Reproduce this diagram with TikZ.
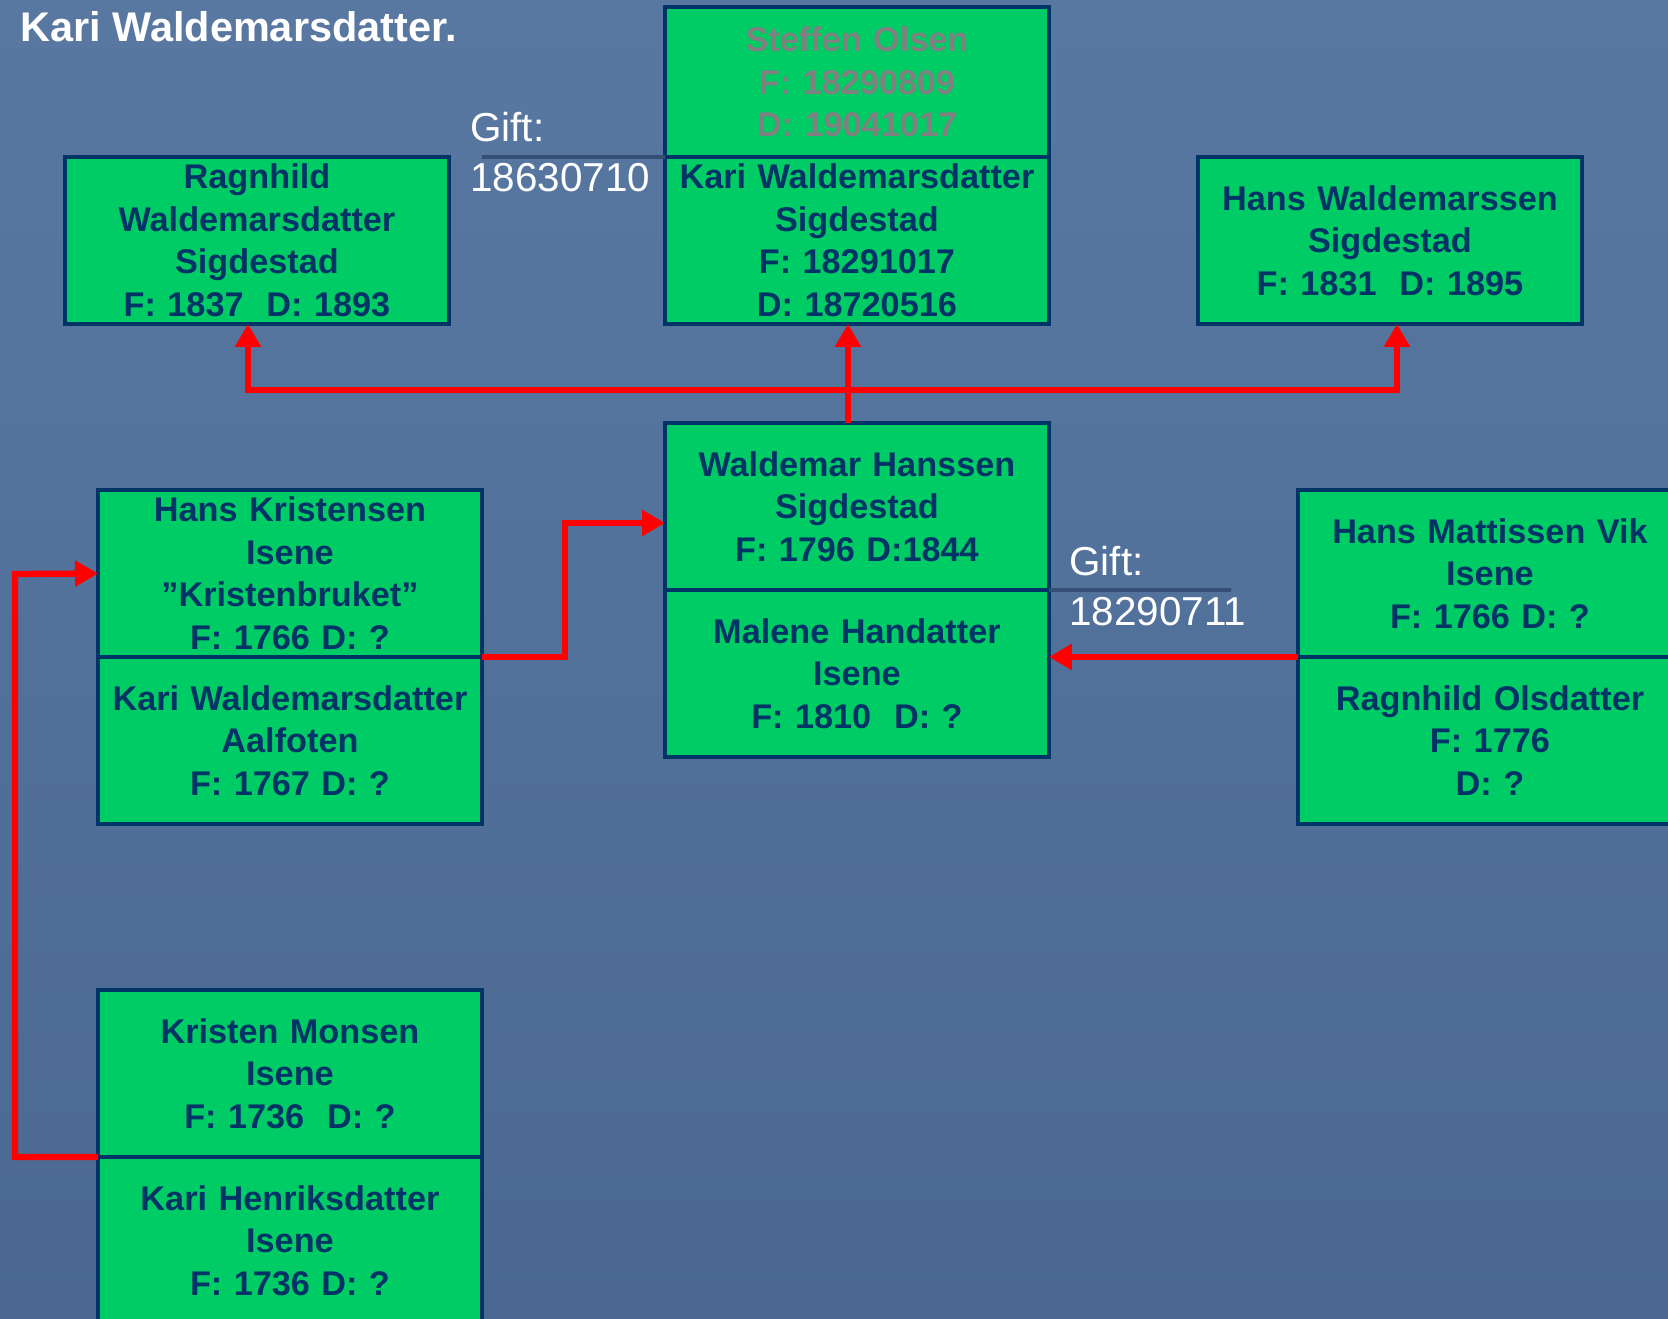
\documentclass[tikz,border=0pt]{standalone}
\usepackage{fontspec}
\setmainfont{Liberation Sans}
\usetikzlibrary{positioning,calc,arrows.meta}
\definecolor{slidebg}{RGB}{88,120,162}
\definecolor{slidebgdark}{RGB}{74,104,146}
\definecolor{boxgreen}{RGB}{0,204,102}
\definecolor{boxnavy}{RGB}{0,51,102}
\definecolor{giftgray}{RGB}{52,78,118}

\begin{document}
\begin{tikzpicture}[
	%	style def
    x=0.02cm, y=-0.02cm,
    person/.style={draw=boxnavy, line width=1.8pt, fill=boxgreen, text=boxnavy,
        minimum width=7.68cm, minimum height=3.34cm, text width=7.5cm, align=center,
        outer sep=0pt, inner xsep=0.08cm, inner ysep=0.02cm,
        font=\fontsize{19.5}{24.2}\selectfont\bfseries},
    link/.style={draw=red, line width=3.6pt, line join=miter},
    arr/.style={link, -{Triangle[length=0.46cm,width=0.5cm]}},
    gift/.style={anchor=west, align=left, inner sep=0pt, text=white,
        font=\fontsize{23}{28.5}\selectfont},
    giftline/.style={draw=giftgray, line width=2.2pt}
    ]

	% slide background
	\useasboundingbox (0,0) rectangle (1668,1319);
	\clip (0,0) rectangle (1668,1319);
	\shade[top color=slidebg, bottom color=slidebgdark] (0,0) rectangle (1668,1319);

	\node[anchor=west, inner sep=0pt, text=white, font=\fontsize{23.6}{28}\selectfont\bfseries]
		(title) at (20,27) {Kari Waldemarsdatter.};

	% children of Waldemar
	\node[person, minimum height=3cm, text=gray, anchor=north west] (steffen) at (665,7)
		{Steffen Olsen\\F: 18290809\\D: 19041017};
	\node[person, below=0pt of steffen] (kari)
		{Kari Waldemarsdatter\\Sigdestad\\F: 18291017\\D: 18720516};
	\node[person, anchor=north west] (ragnhild) at (65,157)
		{Ragnhild\\Waldemarsdatter\\Sigdestad\\F: 1837~ D: 1893};
	\node[person, anchor=north west] (hansw) at (1198,157)
		{Hans Waldemarssen\\Sigdestad\\F: 1831~ D: 1895};

	% parents
	\node[person, anchor=north west] (waldemar) at (665,423)
		{Waldemar Hanssen\\Sigdestad\\F: 1796 D:1844};
	\node[person, below=0pt of waldemar] (malene)
		{Malene Handatter\\Isene\\F: 1810~ D: ?};

	% grandparents
	\node[person, anchor=north west] (hansk) at (98,490)
		{Hans Kristensen\\Isene\\”Kristenbruket”\\F: 1766 D: ?};
	\node[person, below=0pt of hansk] (kariw)
		{Kari Waldemarsdatter\\Aalfoten\\F: 1767 D: ?};
	\node[person, anchor=north west] (hansm) at (1298,490)
		{Hans Mattissen Vik\\Isene\\F: 1766 D: ?};
	\node[person, below=0pt of hansm] (ragnhildo)
		{Ragnhild Olsdatter\\F: 1776\\D: ?};

	% great grandparents
	\node[person, anchor=north west] (kristen) at (98,990)
		{Kristen Monsen\\Isene\\F: 1736~ D: ?};
	\node[person, below=0pt of kristen] (karih)
		{Kari Henriksdatter\\Isene\\F: 1736 D: ?};

	% marriages
	\coordinate (g1) at (482,157);
	\coordinate (g2) at (1231,590);
	\draw[giftline] (g1) -- (steffen.south west);
	\draw[giftline] (waldemar.south east) -- (g2);
	\node[gift] (gift1) at (470,152) {Gift:\\18630710};
	\node[gift] (gift2) at (1069,586) {Gift:\\18290711};

	% descent
	\coordinate (fork) at ($(waldemar.north)+(-9,-33)$);
	\coordinate (jog) at (565,523);
	\coordinate (bend) at (15,574);
	\draw[link] (fork |- waldemar.north) -- (fork);
	\draw[arr] (fork) -- (fork |- kari.south);
	\draw[arr] (fork) -| ($(ragnhild.south)+(-9,0)$);
	\draw[arr] (fork) -| ($(hansw.south)+(7,0)$);
	\draw[arr] (hansk.south east) -| (jog) -- (jog -| waldemar.west);
	\draw[arr] (hansm.south west) -- (hansm.south west -| malene.east);
	\draw[arr] (kristen.south west) -| (bend) -- (hansk.west);
\end{tikzpicture}
\end{document}
